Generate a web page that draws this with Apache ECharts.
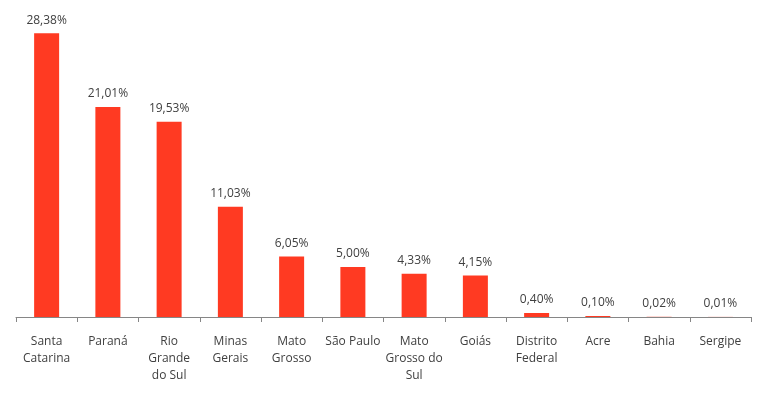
<!DOCTYPE html>
<html>
<head>
<meta charset="utf-8">
<script src="https://cdn.jsdelivr.net/npm/echarts@6/dist/echarts.min.js"></script>
<style>
html, body { margin: 0; padding: 0; background: #fff; }
#chart { width: 768px; height: 400px; }
</style>
</head>
<body>
<div id="chart"></div>
<script>
var estados = ['Santa\nCatarina', 'Paraná', 'Rio\nGrande\ndo Sul', 'Minas\nGerais', 'Mato\nGrosso',
    'São Paulo', 'Mato\nGrosso do\nSul', 'Goiás', 'Distrito\nFederal', 'Acre', 'Bahia', 'Sergipe'];
var percentuais = [28.38, 21.01, 19.53, 11.03, 6.05, 5.00, 4.33, 4.15, 0.40, 0.10, 0.02, 0.01];

var chart = echarts.init(document.getElementById('chart'));

var option = {
    animation: false,
    textStyle: { fontFamily: 'Open Sans, Noto Sans, sans-serif' },
    grid: { left: 16, right: 17, top: 17, bottom: 83 },
    xAxis: {
        type: 'category',
        data: estados,
        axisLine: { lineStyle: { color: '#868686', width: 1 } },
        axisTick: { show: true, length: 5, lineStyle: { color: '#868686' } },
        axisLabel: {
            color: '#404040',
            fontSize: 12,
            lineHeight: 17,
            margin: 16,
            interval: 0
        }
    },
    yAxis: {
        type: 'value',
        min: 0,
        max: 30,
        show: false,
        splitLine: { show: false }
    },
    series: [{
        type: 'bar',
        data: percentuais,
        barWidth: 25,
        itemStyle: { color: '#ff3a22' },
        label: {
            show: true,
            position: 'top',
            distance: 7,
            color: '#404040',
            fontSize: 12,
            formatter: function (p) {
                return p.value.toFixed(2).replace('.', ',') + '%';
            }
        }
    }]
};

chart.setOption(option);
</script>
</body>
</html>
